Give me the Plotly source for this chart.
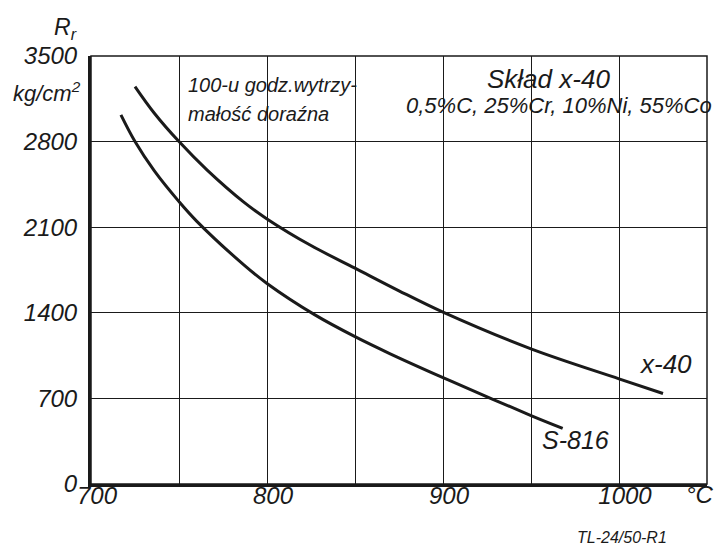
import plotly.graph_objects as go

# Creep-rupture strength (100 h) vs temperature, kg/cm^2
x40_temp = [725, 736, 750, 766, 787, 800, 825, 850, 875, 900, 950, 1000, 1025]
x40_strength = [3250, 3032, 2800, 2567, 2303, 2168, 1950, 1765, 1580, 1405, 1105, 860, 740]

s816_temp = [717, 725, 736, 750, 760, 787, 800, 827, 850, 870, 900, 928, 950, 968]
s816_strength = [3018, 2800, 2560, 2309, 2150, 1790, 1640, 1385, 1205, 1065, 870, 695, 560, 455]

x_tickvals = [700, 750, 800, 850, 900, 950, 1000, 1050]
x_ticktext = ["700", "", "800", "", "900", "", "1000", ""]
y_tickvals = [0, 700, 1400, 2100, 2800, 3500]
y_ticktext = ["0", "700", "1400", "2100", "2800", "3500"]

FONT = "Liberation Sans, Arial, sans-serif"
INK = "#1a1a1a"

# plot box in pixels
W, H = 719, 547
L, R, T, B = 91, 707, 56, 484


def px(x):
    return (x - L) / (R - L)


def py(y):
    return (B - y) / (B - T)


fig = go.Figure()
for xs, ys in ((x40_temp, x40_strength), (s816_temp, s816_strength)):
    fig.add_trace(go.Scatter(
        x=xs, y=ys, mode="lines",
        line=dict(color=INK, width=3, shape="spline", smoothing=1.0),
        showlegend=False, hoverinfo="skip",
    ))

tick_font = dict(family=FONT, size=24, color=INK, style="italic")

fig.update_layout(
    width=W, height=H,
    margin=dict(l=L, r=W - R, t=T, b=H - B),
    paper_bgcolor="white", plot_bgcolor="white",
    xaxis=dict(
        range=[700, 1050], tickmode="array", tickvals=x_tickvals, ticktext=x_ticktext,
        showgrid=True, gridcolor=INK, gridwidth=1.2,
        showline=True, linecolor=INK, linewidth=3, ticks="", ticklen=0, zeroline=False,
        tickfont=tick_font, ticklabelshift=6, ticklabelstandoff=-12,
    ),
    yaxis=dict(
        range=[0, 3500], tickmode="array", tickvals=y_tickvals, ticktext=y_ticktext,
        showgrid=True, gridcolor=INK, gridwidth=1.2,
        showline=True, linecolor=INK, linewidth=3, ticks="", ticklen=0, zeroline=False,
        tickfont=tick_font, ticklabelstandoff=6,
    ),
    font=dict(family=FONT, color=INK),
)

# frame
fig.add_shape(type="rect", xref="paper", yref="paper", x0=0, x1=1, y0=0, y1=1,
              line=dict(color=INK, width=1.5), layer="above")


def note(text, x, y, size, xanchor="center", yanchor="middle"):
    fig.add_annotation(text=text, xref="paper", yref="paper", x=px(x), y=py(y),
                       xanchor=xanchor, yanchor=yanchor, showarrow=False,
                       font=dict(family=FONT, size=size, color=INK, style="italic"))


note("R<sub>r</sub>", 52, 28, 23, xanchor="left")
note("kg/cm<sup>2</sup>", 83, 92, 22, xanchor="right")
note("100-u godz.wytrzy-", 186, 85, 20, xanchor="left")
note("małość doraźna", 186, 114, 20, xanchor="left")
note("Skład x-40", 548, 79, 26)
note("0,5%C, 25%Cr, 10%Ni, 55%Co", 559, 106, 22)
note("x-40", 665, 364, 26)
note("S-816", 575, 440, 25)
note("°C", 700, 494, 24)
note("TL-24/50-R1", 622, 537, 16)

fig.write_html("out.html")
